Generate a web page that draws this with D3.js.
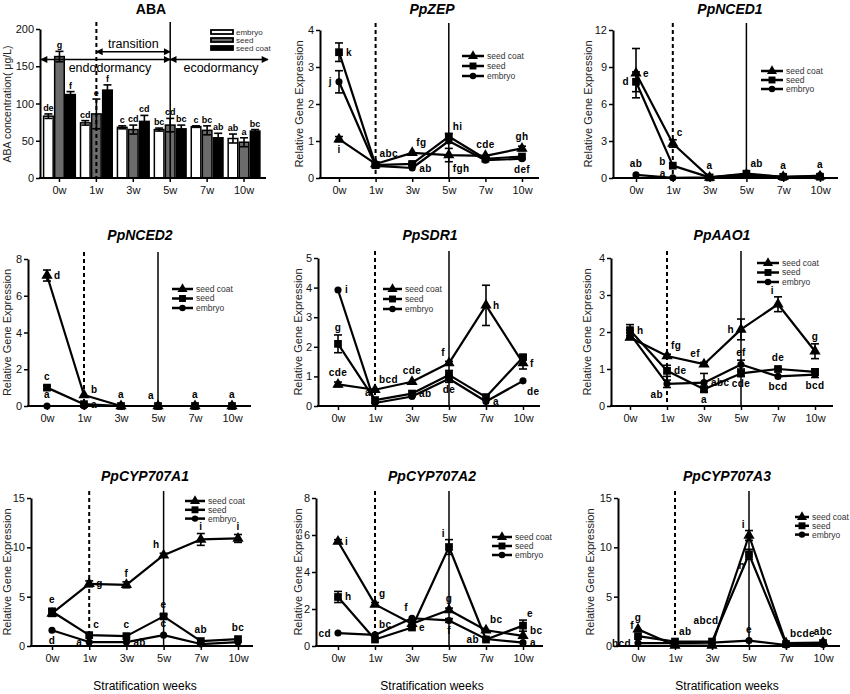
<!DOCTYPE html>
<html>
<head>
<meta charset="utf-8">
<script src="https://cdn.jsdelivr.net/npm/d3@7"></script>
<style>
body { margin: 0; background: #fff; }
svg { font-family: "Liberation Sans", Arial, sans-serif; }
.axis path, .axis line { stroke: #000; }
.axis text { font-size: 11px; fill: #111; }
</style>
</head>
<body>
<svg id="fig" width="850" height="694"></svg>
<script>
// Shared categories
var weeks = ['0w', '1w', '3w', '5w', '7w', '10w'];
var tissues = ['seed coat', 'seed', 'embryo'];
var abaTissues = ['embryo', 'seed', 'seed coat'];

// ABA concentration (μg/L), one array per tissue
var abaEmbryo = [83, 74, 68, 65, 69, 53];
var abaSeed = [163, 86, 65, 71, 64, 48];
var abaCoat = [112, 118, 76, 66, 54, 63];
var abaEmbryoErr = [3, 3, 2, 2, 1, 6];
var abaSeedErr = [7, 20, 6, 9, 6, 6];
var abaCoatErr = [4, 7, 8, 5, 6, 2];
var abaLetters = [['de', 'g', 'f'], ['cd', 'e', 'f'], ['c', 'cd', 'cd'],
                  ['bc', 'cd', 'bc'], ['c', 'bc', 'ab'], ['ab', 'a', 'bc']];
var abaTicks = [0, 50, 100, 150, 200];

// Relative gene expression: rows are seed coat, seed, embryo
// letters: [row, week index, text, side]
var zepMean = [[1.05, 0.38, 0.68, 0.62, 0.6, 0.8],
               [3.4, 0.35, 0.38, 1.12, 0.52, 0.58],
               [2.6, 0.33, 0.27, 1.0, 0.48, 0.52]];
var zepErr = [[0.07, 0.05, 0.03, 0.18, 0.03, 0.06],
              [0.25, 0.05, 0.05, 0.08, 0.03, 0.03],
              [0.3, 0.05, 0.03, 0.05, 0.03, 0.03]];
var zepLetters = [[1, 0, 'k', 'r'], [2, 0, 'j', 'l'], [0, 0, 'i', 'b'], [0, 1, 'abc', 'ar'],
                  [0, 2, 'fg', 'ar'], [2, 2, 'ab', 'r'], [1, 3, 'hi', 'ar'], [0, 3, 'fgh', 'br'],
                  [0, 4, 'cde', 'a'], [0, 5, 'gh', 'a'], [2, 5, 'def', 'b']];
var zepTicks = [0, 1, 2, 3, 4];

var nced1Mean = [[8.5, 2.8, 0.05, 0.3, 0.1, 0.15],
                 [7.8, 1.0, 0.05, 0.35, 0.1, 0.1],
                 [0.25, 0.02, 0.05, 0.2, 0.05, 0.2]];
var nced1Err = [[2.0, 0.3, 0, 0.1, 0, 0],
                [0.8, 0.05, 0, 0.05, 0, 0],
                [0.05, 0, 0, 0, 0, 0]];
var nced1Letters = [[0, 0, 'e', 'r'], [1, 0, 'd', 'l'], [2, 0, 'ab', 'a'], [1, 1, 'b', 'L'],
                    [2, 1, 'a', 'L'], [0, 1, 'c', 'ar'], [0, 2, 'a', 'a'], [1, 3, 'ab', 'ar'],
                    [0, 4, 'a', 'a'], [2, 5, 'a', 'a']];
var nced1Ticks = [0, 3, 6, 9, 12];

var nced2Mean = [[7.1, 0.6, 0, 0, 0, 0],
                 [1.0, 0.1, 0, 0, 0, 0],
                 [0, 0, 0, 0, 0, 0]];
var nced2Err = [[0.3, 0.05, 0, 0, 0, 0],
                [0.1, 0.03, 0, 0, 0, 0],
                [0, 0, 0, 0, 0, 0]];
var nced2Letters = [[0, 0, 'd', 'r'], [1, 0, 'c', 'a'], [2, 0, 'a', 'a'], [0, 1, 'b', 'R'],
                    [1, 1, 'a', 'r'], [2, 2, 'a', 'a'], [2, 3, 'a', 'al'], [2, 4, 'a', 'a'],
                    [2, 5, 'a', 'a']];
var nced2Ticks = [0, 2, 4, 6, 8];

var sdr1Mean = [[0.73, 0.55, 0.82, 1.45, 3.4, 1.45],
                [2.1, 0.2, 0.42, 1.05, 0.3, 1.65],
                [3.92, 0.1, 0.32, 0.92, 0.15, 0.85]];
var sdr1Err = [[0.08, 0.05, 0.05, 0.06, 0.68, 0.2],
               [0.3, 0.05, 0.05, 0.15, 0.05, 0.08],
               [0.05, 0.03, 0.04, 0.12, 0.03, 0.05]];
var sdr1Letters = [[2, 0, 'i', 'r'], [1, 0, 'g', 'a'], [0, 0, 'cde', 'a'], [0, 1, 'bcd', 'ar'],
                   [2, 1, 'a', 'al'], [0, 2, 'cde', 'a'], [1, 2, 'ab', 'r'], [0, 3, 'f', 'al'],
                   [2, 3, 'de', 'b'], [0, 4, 'h', 'r'], [2, 4, 'a', 'r'], [0, 5, 'f', 'r'],
                   [2, 5, 'de', 'br']];
var sdr1Ticks = [0, 1, 2, 3, 4, 5];

var aao1Mean = [[1.85, 1.35, 1.13, 2.07, 2.75, 1.48],
                [2.05, 0.95, 0.45, 0.88, 1.0, 0.92],
                [1.95, 0.6, 0.63, 1.12, 0.8, 0.85]];
var aao1Err = [[0.05, 0.05, 0.05, 0.28, 0.2, 0.2],
               [0.15, 0.15, 0.08, 0.08, 0.04, 0.08],
               [0.1, 0.1, 0.25, 0.12, 0.04, 0.08]];
var aao1Letters = [[1, 0, 'h', 'r'], [0, 1, 'fg', 'ar'], [1, 1, 'de', 'r'], [2, 1, 'ab', 'bl'],
                   [0, 2, 'ef', 'al'], [2, 2, 'abc', 'r'], [1, 2, 'a', 'b'], [0, 3, 'h', 'l'],
                   [2, 3, 'ef', 'a'], [1, 3, 'cde', 'b'], [0, 4, 'i', 'al'], [1, 4, 'de', 'a'],
                   [2, 4, 'bcd', 'b'], [0, 5, 'g', 'a'], [2, 5, 'bcd', 'b']];
var aao1Ticks = [0, 1, 2, 3, 4];

var cypA1Mean = [[3.3, 6.3, 6.2, 9.2, 10.8, 10.9],
                 [3.5, 1.1, 1.0, 3.0, 0.5, 0.7],
                 [1.6, 0.4, 0.4, 1.1, 0.2, 0.4]];
var cypA1Err = [[0.3, 0.3, 0.3, 0.2, 0.6, 0.4],
                [0.3, 0.1, 0.1, 0.2, 0.1, 0.1],
                [0.1, 0.05, 0.05, 0.1, 0.05, 0.05]];
var cypA1Letters = [[1, 0, 'e', 'a'], [2, 0, 'd', 'b'], [0, 1, 'g', 'r'], [1, 1, 'c', 'ar'],
                    [2, 1, 'a', 'l'], [0, 2, 'f', 'a'], [1, 2, 'c', 'a'], [2, 2, 'ab', 'r'],
                    [0, 3, 'h', 'al'], [1, 3, 'e', 'a'], [2, 3, 'c', 'a'], [0, 4, 'i', 'a'],
                    [1, 4, 'ab', 'a'], [0, 5, 'i', 'a'], [1, 5, 'bc', 'a']];
var cypA1Ticks = [0, 5, 10, 15];

var cypA2Mean = [[5.65, 2.25, 1.2, 1.95, 0.85, 0.55],
                 [2.65, 0.35, 1.0, 5.35, 0.35, 1.1],
                 [0.7, 0.6, 1.5, 1.38, 0.38, 0.18]];
var cypA2Err = [[0.1, 0.1, 0.05, 0.1, 0.05, 0.05],
                [0.3, 0.05, 0.05, 0.4, 0.05, 0.3],
                [0.05, 0.05, 0.05, 0.1, 0.05, 0.05]];
var cypA2Letters = [[0, 0, 'i', 'r'], [1, 0, 'h', 'r'], [2, 0, 'cd', 'l'], [0, 1, 'g', 'ar'],
                    [2, 1, 'bc', 'ar'], [2, 2, 'f', 'al'], [1, 2, 'e', 'r'], [1, 3, 'i', 'al'],
                    [0, 3, 'g', 'a'], [2, 3, 'f', 'b'], [0, 4, 'bc', 'ar'], [1, 4, 'ab', 'l'],
                    [1, 5, 'e', 'ar'], [0, 5, 'bc', 'R'], [2, 5, 'a', 'r']];
var cypA2Ticks = [0, 2, 4, 6, 8];

var cypA3Mean = [[1.7, 0.05, 0.05, 11.2, 0.3, 0.35],
                 [1.0, 0.45, 0.45, 9.3, 0.2, 0.3],
                 [0.3, 0.3, 0.35, 0.55, 0.1, 0.15]];
var cypA3Err = [[0.1, 0, 0, 0.5, 0, 0],
                [0.1, 0, 0, 0.5, 0, 0],
                [0.05, 0, 0, 0.1, 0, 0]];
var cypA3Letters = [[0, 0, 'g', 'a'], [1, 0, 'f', 'al'], [2, 0, 'bcd', 'l'], [1, 1, 'ab', 'ar'],
                    [1, 2, 'abcd', 'A'], [0, 3, 'i', 'al'], [1, 3, 'h', 'bl'], [2, 3, 'e', 'a'],
                    [1, 4, 'bcde', 'ar'], [0, 5, 'abc', 'a']];
var cypA3Ticks = [0, 5, 10, 15];

var svg = d3.select('#fig');
var symbols = [d3.symbolTriangle, d3.symbolSquare, d3.symbolCircle];
var symbolSizes = [55, 60, 40];

// Left axis, bottom axis, period lines, title and y label of one panel.
function drawFrame(g, p, x, y, ticks, yLabel, italic) {
    g.append('g')
        .attr('class', 'axis')
        .attr('transform', 'translate(' + p.left + ',0)')
        .call(d3.axisLeft(y).tickValues(ticks).tickFormat(d3.format('d'))
            .tickSize(4).tickSizeOuter(0).tickPadding(2))
        .call(function(a) {
            a.select('.domain').attr('stroke-width', 2);
            a.selectAll('.tick line').attr('stroke-width', 1.5);
        });
    var xa = g.append('g')
        .attr('class', 'axis')
        .attr('transform', 'translate(0,' + p.bottom + ')')
        .call(d3.axisBottom(x).tickSize(4).tickSizeOuter(0).tickPadding(4));
    xa.select('.domain').remove();
    xa.selectAll('.tick line').attr('stroke-width', 1.5);
    xa.append('line')
        .attr('x1', p.left - 1).attr('x2', p.right)
        .attr('stroke', '#000').attr('stroke-width', 2);

    var pos = x.bandwidth ? function(w) { return x(w) + x.bandwidth() / 2; } : x;
    g.append('line')
        .attr('x1', pos('1w')).attr('x2', pos('1w'))
        .attr('y1', p.top - 7).attr('y2', p.bottom)
        .attr('stroke', '#000').attr('stroke-width', 2)
        .attr('stroke-dasharray', '4,3');
    g.append('line')
        .attr('x1', pos('5w')).attr('x2', pos('5w'))
        .attr('y1', p.top - 7).attr('y2', p.bottom)
        .attr('stroke', '#000').attr('stroke-width', 1.5);

    g.append('text')
        .attr('x', p.titleX).attr('y', p.titleY)
        .attr('text-anchor', 'middle')
        .attr('font-size', 14).attr('font-weight', 'bold')
        .attr('font-style', italic ? 'italic' : 'normal')
        .text(p.title);
    g.append('text')
        .attr('transform', 'translate(' + p.ylabX + ',' + (p.top + p.bottom) / 2 + ') rotate(-90)')
        .attr('text-anchor', 'middle').attr('dy', '0.35em')
        .attr('font-size', 11).attr('fill', '#222')
        .text(yLabel);
}

function drawLegend(g, p) {
    tissues.forEach(function(t, i) {
        var yy = p.legY + i * p.legDy;
        g.append('line')
            .attr('x1', p.legX1).attr('x2', p.legX2)
            .attr('y1', yy).attr('y2', yy)
            .attr('stroke', '#000').attr('stroke-width', 2.5);
        g.append('path')
            .attr('transform', 'translate(' + (p.legX1 + p.legX2) / 2 + ',' + yy + ')')
            .attr('d', d3.symbol().type(symbols[i]).size(symbolSizes[i] * 0.8)());
        g.append('text')
            .attr('x', p.legX2 + 3).attr('y', yy).attr('dy', '0.35em')
            .attr('font-size', 8.5).attr('fill', '#333')
            .text(t);
    });
}

function placeLetter(code, px, py, pyTop, pyBot) {
    switch (code) {
        case 'a': return [px, pyTop - 4, 'middle'];
        case 'A': return [px - 6, pyTop - 14, 'middle'];
        case 'b': return [px, pyBot + 10, 'middle'];
        case 'r': return [px + 7, py + 3.5, 'start'];
        case 'R': return [px + 7, py - 1.5, 'start'];
        case 'l': return [px - 7, py + 3.5, 'end'];
        case 'L': return [px - 7, py - 1, 'end'];
        case 'ar': return [px + 4, pyTop - 3, 'start'];
        case 'al': return [px - 4, pyTop - 3, 'end'];
        case 'br': return [px + 4, pyBot + 10, 'start'];
        default: return [px - 4, pyBot + 10, 'end'];
    }
}

function linePanel(p, means, errs, letters, ticks) {
    var g = svg.append('g');
    var x = d3.scalePoint().domain(weeks).range([p.x0, p.x10]);
    var y = d3.scaleLinear().domain([0, d3.max(ticks)]).range([p.bottom, p.top]);
    drawFrame(g, p, x, y, ticks, 'Relative Gene Expression', true);

    var line = d3.line()
        .x(function(d, j) { return x(weeks[j]); })
        .y(function(d) { return y(d); });

    means.forEach(function(vals) {
        g.append('path')
            .attr('d', line(vals))
            .attr('fill', 'none').attr('stroke', '#000')
            .attr('stroke-width', 2.2).attr('stroke-linejoin', 'round');
    });
    means.forEach(function(vals, i) {
        vals.forEach(function(v, j) {
            var e = errs[i][j], px = x(weeks[j]);
            if (y(v - e) - y(v + e) > 3) {
                g.append('line').attr('x1', px).attr('x2', px)
                    .attr('y1', y(v - e)).attr('y2', y(v + e))
                    .attr('stroke', '#000').attr('stroke-width', 1.6);
                [v - e, v + e].forEach(function(vv) {
                    g.append('line').attr('x1', px - 4).attr('x2', px + 4)
                        .attr('y1', y(vv)).attr('y2', y(vv))
                        .attr('stroke', '#000').attr('stroke-width', 1.6);
                });
            }
            g.append('path')
                .attr('transform', 'translate(' + px + ',' + y(v) + ')')
                .attr('d', d3.symbol().type(symbols[i]).size(symbolSizes[i])());
        });
    });

    letters.forEach(function(l) {
        var v = means[l[0]][l[1]], e = errs[l[0]][l[1]];
        var px = x(weeks[l[1]]), py = y(v);
        var pos = placeLetter(l[3], px, py, Math.min(y(v + e), py - 4), Math.max(y(v - e), py + 4));
        g.append('text')
            .attr('x', pos[0]).attr('y', pos[1])
            .attr('text-anchor', pos[2])
            .attr('font-size', 10).attr('font-weight', 'bold')
            .attr('letter-spacing', 0.4)
            .text(l[2]);
    });
    drawLegend(g, p);
    if (p.xTitle) {
        g.append('text')
            .attr('x', p.titleX).attr('y', 690)
            .attr('text-anchor', 'middle').attr('font-size', 12)
            .text('Stratification weeks');
    }
}

// ---- ABA bar panel ----
(function() {
    var p = {left: 40, right: 266, top: 29, bottom: 178, title: 'ABA', titleX: 151, titleY: 14, ylabX: 7};
    var g = svg.append('g');
    var x = d3.scaleBand().domain(weeks).range([41, 262.5]);
    var inner = d3.scaleBand().domain(abaTissues).range([0, x.bandwidth() * 0.9]);
    var y = d3.scaleLinear().domain([0, 200]).range([p.bottom, p.top]);
    var vals = [abaEmbryo, abaSeed, abaCoat];
    var errs = [abaEmbryoErr, abaSeedErr, abaCoatErr];
    var fills = ['#fff', '#6b6b6b', '#000'];
    var off = x.bandwidth() * 0.05;

    abaTissues.forEach(function(t, i) {
        weeks.forEach(function(w, j) {
            var bx = x(w) + off + inner(t);
            g.append('rect')
                .attr('x', bx + 0.75).attr('y', y(vals[i][j]))
                .attr('width', inner.bandwidth() - 1.5)
                .attr('height', y(0) - y(vals[i][j]))
                .attr('fill', fills[i]).attr('stroke', '#000').attr('stroke-width', 1.5);
        });
    });
    abaTissues.forEach(function(t, i) {
        weeks.forEach(function(w, j) {
            var cx = x(w) + off + inner(t) + inner.bandwidth() / 2;
            var v = vals[i][j], e = errs[i][j];
            g.append('line').attr('x1', cx).attr('x2', cx)
                .attr('y1', y(v - e)).attr('y2', y(v + e))
                .attr('stroke', '#000').attr('stroke-width', 1.6);
            [v - e, v + e].forEach(function(vv) {
                g.append('line').attr('x1', cx - 4).attr('x2', cx + 4)
                    .attr('y1', y(vv)).attr('y2', y(vv))
                    .attr('stroke', '#000').attr('stroke-width', 1.6);
            });
            g.append('text')
                .attr('x', cx).attr('y', y(v + e) - 3)
                .attr('text-anchor', 'middle')
                .attr('font-size', 9).attr('font-weight', 'bold')
                .text(abaLetters[j][i]);
        });
    });
    drawFrame(g, p, x, y, abaTicks, '', false);
    g.append('text')
        .attr('transform', 'translate(' + p.ylabX + ',104) rotate(-90)')
        .attr('text-anchor', 'middle').attr('dy', '0.35em')
        .attr('font-size', 10.5).attr('fill', '#222')
        .text('ABA concentration( μg/L)');

    // dormancy phase arrows
    var defs = svg.append('defs');
    defs.append('marker').attr('id', 'ah').attr('viewBox', '0 0 10 10')
        .attr('refX', 9).attr('refY', 5).attr('markerWidth', 8).attr('markerHeight', 7)
        .attr('markerUnits', 'userSpaceOnUse').attr('orient', 'auto-start-reverse')
        .append('path').attr('d', 'M0,0L10,5L0,10Z').attr('fill', '#000');
    var c1 = x('1w') + x.bandwidth() / 2, c5 = x('5w') + x.bandwidth() / 2;
    [[p.left + 1, c5, 159], [c5, 268, 159], [c1, c5, 169.5]].forEach(function(a) {
        g.append('line')
            .attr('x1', a[0]).attr('x2', a[1]).attr('y1', y(a[2])).attr('y2', y(a[2]))
            .attr('stroke', '#000').attr('stroke-width', 1.5)
            .attr('marker-start', 'url(#ah)').attr('marker-end', 'url(#ah)');
    });
    [['transition', (c1 + c5) / 2, 48], ['endodormancy', 110, 72], ['ecodormancy', 221, 72]]
        .forEach(function(t) {
            g.append('text').attr('x', t[1]).attr('y', t[2])
                .attr('text-anchor', 'middle').attr('font-size', 12.5).text(t[0]);
        });

    abaTissues.forEach(function(t, i) {
        g.append('rect').attr('x', 211).attr('y', 30 + i * 8)
            .attr('width', 22).attr('height', 4)
            .attr('fill', fills[i]).attr('stroke', '#000').attr('stroke-width', 1.8);
        g.append('text').attr('x', 236).attr('y', 32 + i * 8).attr('dy', '0.35em')
            .attr('font-size', 8).attr('fill', '#333').text(t);
    });
})();

linePanel({left: 320, right: 539, x0: 339, x10: 522, top: 30, bottom: 178, title: 'PpZEP',
           titleX: 432, titleY: 14, ylabX: 299, legX1: 462, legX2: 484, legY: 56, legDy: 10},
          zepMean, zepErr, zepLetters, zepTicks);
linePanel({left: 613, right: 838, x0: 636, x10: 820, top: 30, bottom: 178, title: 'PpNCED1',
           titleX: 730, titleY: 14, ylabX: 588, legX1: 761, legX2: 783, legY: 71, legDy: 9},
          nced1Mean, nced1Err, nced1Letters, nced1Ticks);
linePanel({left: 28, right: 251, x0: 47, x10: 232, top: 259, bottom: 406, title: 'PpNCED2',
           titleX: 140, titleY: 240, ylabX: 7, legX1: 172, legX2: 193, legY: 289, legDy: 9.5},
          nced2Mean, nced2Err, nced2Letters, nced2Ticks);
linePanel({left: 318, right: 540, x0: 338, x10: 523, top: 258, bottom: 406, title: 'PpSDR1',
           titleX: 430, titleY: 240, ylabX: 298, legX1: 383, legX2: 402, legY: 289, legDy: 10},
          sdr1Mean, sdr1Err, sdr1Letters, sdr1Ticks);
linePanel({left: 611, right: 833, x0: 630, x10: 815, top: 258, bottom: 406, title: 'PpAAO1',
           titleX: 722, titleY: 240, ylabX: 587, legX1: 757, legX2: 779, legY: 263, legDy: 9.5},
          aao1Mean, aao1Err, aao1Letters, aao1Ticks);
linePanel({left: 31, right: 253, x0: 52, x10: 238, top: 498, bottom: 646, title: 'PpCYP707A1',
           titleX: 145, titleY: 481, ylabX: 7, legX1: 185, legX2: 205, legY: 501, legDy: 8.8, xTitle: true},
          cypA1Mean, cypA1Err, cypA1Letters, cypA1Ticks);
linePanel({left: 316, right: 543, x0: 338, x10: 523, top: 498, bottom: 646, title: 'PpCYP707A2',
           titleX: 432, titleY: 481, ylabX: 298, legX1: 492, legX2: 512, legY: 537, legDy: 9, xTitle: true},
          cypA2Mean, cypA2Err, cypA2Letters, cypA2Ticks);
linePanel({left: 618, right: 840, x0: 638, x10: 823, top: 498, bottom: 646, title: 'PpCYP707A3',
           titleX: 727, titleY: 481, ylabX: 590, legX1: 795, legX2: 809, legY: 517, legDy: 8.8, xTitle: true},
          cypA3Mean, cypA3Err, cypA3Letters, cypA3Ticks);
</script>
</body>
</html>
